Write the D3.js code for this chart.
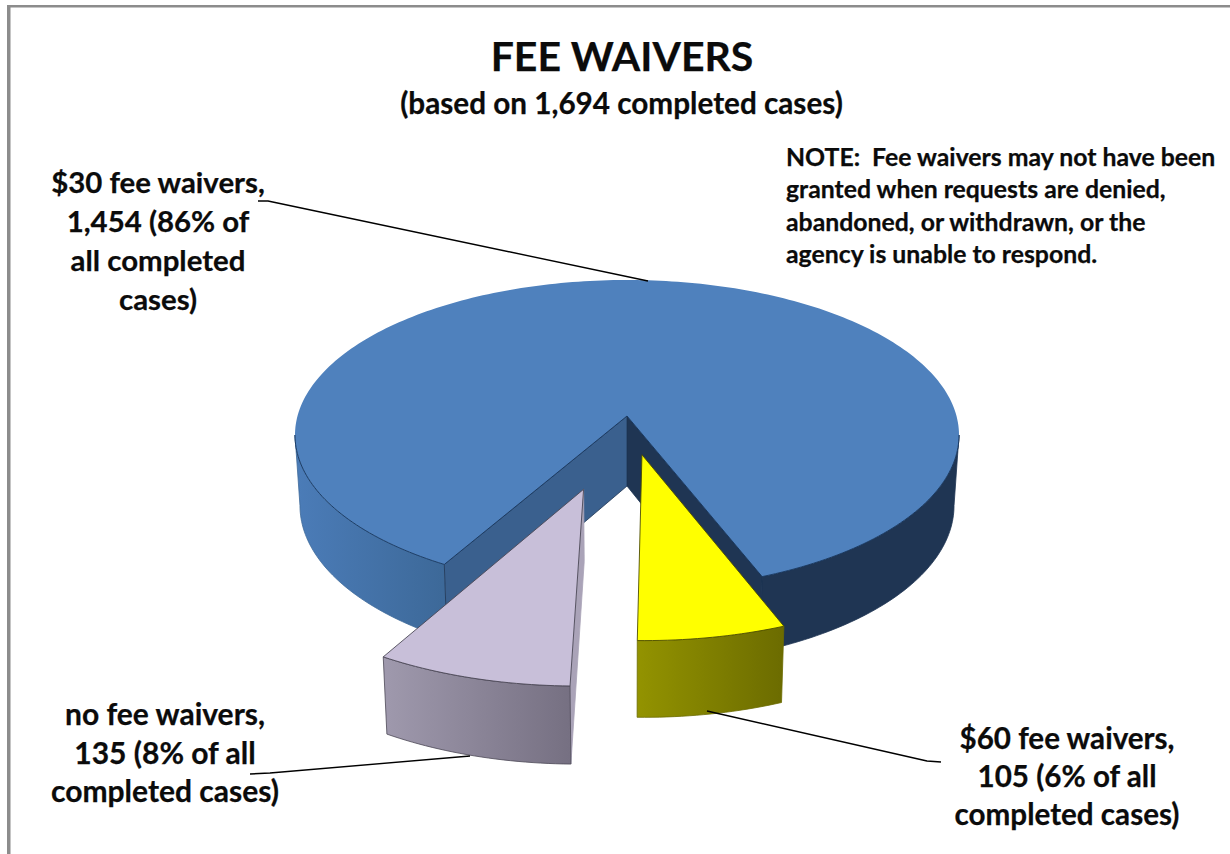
<!DOCTYPE html>
<html>
<head>
<meta charset="utf-8">
<script src="https://cdn.jsdelivr.net/npm/d3@7"></script>
<style>
html, body { margin: 0; padding: 0; background: #fff; }
svg { display: block; }
text { font-family: Lato, "Open Sans", sans-serif; font-weight: 700; fill: #0b0b0b; stroke: #0b0b0b; stroke-width: 0.25px; }
</style>
</head>
<body>
<svg id="chart" width="1230" height="854"></svg>
<script>
var categories = ["$30 fee waivers", "$60 fee waivers", "no fee waivers"];
var cases = [1454, 105, 135];
var titleText = "FEE WAIVERS";
var subtitleText = "(based on 1,694 completed cases)";
var noteLines = [
    "NOTE:  Fee waivers may not have been",
    "granted when requests are denied,",
    "abandoned, or withdrawn, or the",
    "agency is unable to respond."
];
var labelLines = [
    ["$30 fee waivers,", "1,454 (86% of", "all completed", "cases)"],
    ["$60 fee waivers,", "105 (6% of all", "completed cases)"],
    ["no fee waivers,", "135 (8% of all", "completed cases)"]
];

// perspective of the pie, fitted to the picture
var CX = 627, CY = 416;
var RX = 329.5, RY = 152.7, PERSP = 0.1226;
var DEPTH = 70, DEPTH_GROW = 0.03, DEPTH_SHRINK = 0.985;
var START = -150.3 * Math.PI / 180;
var EXPLODE = [0, 0.25, 0.47];

var svg = d3.select("#chart");
var defs = svg.append("defs");

function addGradient(id, x1, x2, c1, c2) {
    var g = defs.append("linearGradient").attr("id", id)
        .attr("gradientUnits", "userSpaceOnUse")
        .attr("x1", x1).attr("x2", x2).attr("y1", 0).attr("y2", 0);
    g.append("stop").attr("offset", 0).attr("stop-color", c1);
    g.append("stop").attr("offset", 1).attr("stop-color", c2);
}
addGradient("blueWall", 295, 442, "#4b7cb8", "#3d6999");
addGradient("yellowWall", 633, 782, "#949400", "#6c6c00");
addGradient("lilacWall", 380, 570, "#a09aae", "#767082");

// u right, v toward the viewer, h 0 on top and 1 at the bottom of the wall
function project(u, v, h) {
    var w = 1 - PERSP * v;
    var s = 1 - h * (1 - DEPTH_SHRINK);
    return [
        CX + RX * s * u / w,
        CY + h * DEPTH + RY * v / w * (1 + h * DEPTH_GROW)
    ];
}

function rimPoint(a, off, h) {
    return project(off[0] + Math.sin(a), off[1] - Math.cos(a), h);
}

function rim(a0, a1, off, h) {
    var n = Math.max(2, Math.ceil(Math.abs(a1 - a0) / 0.02));
    return d3.range(n + 1).map(function(i) {
        return rimPoint(a0 + (a1 - a0) * i / n, off, h);
    });
}

var line = d3.line();

function drawFace(pts, fill, stroke, width) {
    svg.append("path")
        .attr("d", line(pts) + "Z")
        .attr("fill", fill)
        .attr("stroke", stroke)
        .attr("stroke-width", width)
        .attr("stroke-linejoin", "round");
}

function drawEdge(pts, stroke, width) {
    svg.append("path")
        .attr("d", line(pts))
        .attr("fill", "none")
        .attr("stroke", stroke)
        .attr("stroke-width", width)
        .attr("stroke-linejoin", "round");
}

function wall(a0, a1, off, fill, stroke) {
    drawFace(rim(a0, a1, off, 0).concat(rim(a1, a0, off, 1)), fill, stroke, 0.8);
}

function cutFace(a, off, fill, stroke) {
    drawFace([
        project(off[0], off[1], 0), rimPoint(a, off, 0),
        rimPoint(a, off, 1), project(off[0], off[1], 1)
    ], fill, stroke, 0.8);
}

function topFace(d, off, fill, stroke) {
    var pts = [project(off[0], off[1], 0)].concat(rim(d.startAngle, d.endAngle, off, 0));
    drawFace(pts, fill, stroke, 0.9);
}

var slices = d3.pie().sort(null).startAngle(START).endAngle(START + 2 * Math.PI)(cases);

var offsets = slices.map(function(d, i) {
    var mid = (d.startAngle + d.endAngle) / 2;
    return [EXPLODE[i] * Math.sin(mid), -EXPLODE[i] * Math.cos(mid)];
});

// blue slice: walls first, top over them
// the walls stop where the rim is widest, going further folds the band over itself
var blue = slices[0], off0 = offsets[0];
var WIDEST = Math.acos(-PERSP);
wall(WIDEST, blue.endAngle, off0, "#1f3553", "#1f3553");
wall(blue.startAngle, -WIDEST, off0, "url(#blueWall)", "#3d6999");
cutFace(blue.endAngle, off0, "#1f3553", "#17304f");
cutFace(blue.startAngle, off0, "#3a608e", "#1f3553");
topFace(blue, off0, "#4f81bd", "none");
// the back of the rim has no outline in the picture
drawEdge(rim(WIDEST, blue.endAngle, off0, 0)
    .concat([project(off0[0], off0[1], 0)])
    .concat(rim(blue.startAngle, -WIDEST, off0, 0)), "#17375e", 0.9);

// yellow slice
var yellow = slices[1], off1 = offsets[1];
wall(yellow.startAngle, yellow.endAngle, off1, "url(#yellowWall)", "#6b6b00");
topFace(yellow, off1, "#ffff00", "#4d4d00");

// lilac slice
var lilac = slices[2], off2 = offsets[2];
cutFace(lilac.startAngle, off2, "#aaa3b8", "#aaa3b8");
wall(lilac.startAngle, lilac.endAngle, off2, "url(#lilacWall)", "#4b4756");
topFace(lilac, off2, "#c8bfd9", "#4b4756");

// leader lines
var leaders = [
    [[258, 201], [268, 201], [648, 281]],
    [[707, 711], [927, 761], [941, 762]],
    [[250, 774], [270, 773], [470, 756]]
];
leaders.forEach(function(pts) {
    drawEdge(pts, "#000", 1.4);
});

// frame, only left and top are in the picture
svg.append("rect").attr("x", 7).attr("y", 5).attr("width", 1223).attr("height", 2.5).attr("fill", "#8c8c8c");
svg.append("rect").attr("x", 7).attr("y", 5).attr("width", 3.5).attr("height", 849).attr("fill", "#8c8c8c");

function textBlock(lines, x, y0, step, size, anchor) {
    svg.append("g").selectAll("text").data(lines).join("text")
        .attr("x", x)
        .attr("y", function(d, i) { return y0 + i * step; })
        .attr("text-anchor", anchor)
        .attr("font-size", size)
        .attr("xml:space", "preserve")
        .style("white-space", "pre")
        .text(function(d) { return d; });
}

textBlock([titleText], 622, 71, 0, 41, "middle");
textBlock([subtitleText], 621.5, 114, 0, 29.7, "middle");
textBlock(noteLines, 786, 166, 32.4, 24.8, "start");
textBlock(labelLines[0], 158, 193, 39, 29.4, "middle");
textBlock(labelLines[1], 1067, 749, 38, 29.6, "middle");
textBlock(labelLines[2], 165, 725, 38.5, 30, "middle");
</script>
</body>
</html>
